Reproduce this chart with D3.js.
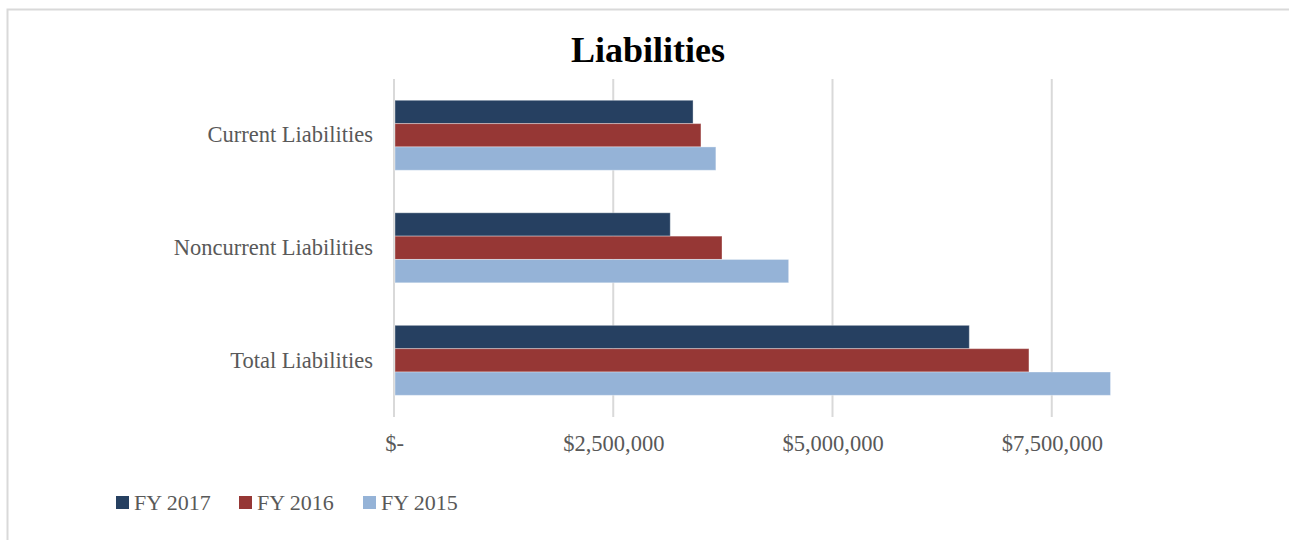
<!DOCTYPE html>
<html>
<head>
<meta charset="utf-8">
<script src="https://cdn.jsdelivr.net/npm/d3@7"></script>
<style>
  html, body { margin: 0; padding: 0; background: #fff; }
  svg { display: block; }
</style>
</head>
<body>
<svg id="chart" width="1289" height="540"></svg>
<script>
const categories = ["Current Liabilities", "Noncurrent Liabilities", "Total Liabilities"];
const seriesNames = ["FY 2017", "FY 2016", "FY 2015"];
const fy2017 = [3410000, 3150000, 6560000];
const fy2016 = [3500000, 3740000, 7240000];
const fy2015 = [3670000, 4500000, 8170000];
const tickValues = [0, 2500000, 5000000, 7500000];
const tickLabels = ["$-", "$2,500,000", "$5,000,000", "$7,500,000"];
const colors = ["#264061", "#963735", "#95B3D7"];

const seriesValues = [fy2017, fy2016, fy2015];
const svg = d3.select("#chart");
const font = "'Liberation Serif', 'DejaVu Serif', serif";

// frame
svg.append("path")
  .attr("d", "M7.5,545 L7.5,9.5 L1295,9.5")
  .attr("fill", "none").attr("stroke", "#d9d9d9").attr("stroke-width", 2);

// title
svg.append("text")
  .attr("x", 648).attr("y", 62)
  .attr("text-anchor", "middle")
  .attr("font-family", font).attr("font-weight", "bold")
  .attr("font-size", 36).attr("fill", "#000")
  .text("Liabilities");

const x = d3.scaleLinear().domain([0, 10000000]).range([394, 1271]);
const y = d3.scaleBand().domain(categories).range([79, 416.6]).paddingInner(0.378).paddingOuter(0.189);
const ySub = d3.scaleBand().domain(seriesNames).range([0, y.bandwidth()]);

// gridlines
svg.append("g").selectAll("line").data(tickValues).join("line")
  .attr("x1", d => x(d)).attr("x2", d => x(d))
  .attr("y1", 79).attr("y2", 417)
  .attr("stroke", "#d9d9d9").attr("stroke-width", 2);

// bars
const groups = svg.append("g").selectAll("g").data(categories).join("g")
  .attr("transform", c => `translate(0,${y(c)})`);
groups.selectAll("rect")
  .data((c, i) => seriesNames.map((s, j) => ({ s, j, v: seriesValues[j][i] })))
  .join("rect")
  .attr("x", x(0) + 1)
  .attr("y", d => ySub(d.s))
  .attr("width", d => x(d.v) - x(0) - 1)
  .attr("height", ySub.bandwidth())
  .attr("fill", d => colors[d.j])
  .attr("stroke", "#ffffff").attr("stroke-opacity", 0.35).attr("stroke-width", 1);

// x axis labels
const xAxis = d3.axisBottom(x).tickValues(tickValues)
  .tickFormat((d, i) => tickLabels[i]).tickSize(0).tickPadding(0);
const gx = svg.append("g").attr("transform", "translate(0,435)").call(xAxis);
gx.select(".domain").remove();
gx.selectAll("text")
  .attr("font-family", font).attr("font-size", 22.5).attr("fill", "#595959")
  .attr("dy", "0.71em");

// y axis labels
const yAxis = d3.axisLeft(y).tickSize(0).tickPadding(0);
const gy = svg.append("g").attr("transform", "translate(373,0)").call(yAxis);
gy.select(".domain").remove();
gy.selectAll("text")
  .attr("font-family", font).attr("font-size", 22.5).attr("fill", "#595959");

// legend
const legendX = [116, 239, 363];
const lg = svg.append("g").selectAll("g").data(seriesNames).join("g")
  .attr("transform", (d, i) => `translate(${legendX[i]},496)`);
lg.append("rect").attr("width", 13).attr("height", 13)
  .attr("fill", (d, i) => colors[i]);
lg.append("text").attr("x", 18).attr("y", 6.5).attr("dy", "0.35em")
  .attr("font-family", font).attr("font-size", 22).attr("fill", "#595959")
  .text(d => d);
</script>
</body>
</html>
